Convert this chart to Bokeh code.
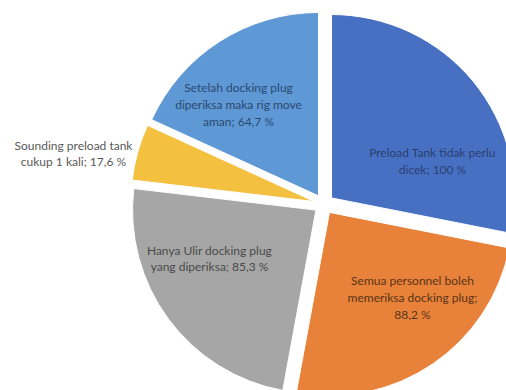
import numpy as np
import pandas as pd
from bokeh.plotting import figure
from bokeh.models import ColumnDataSource, Range1d
from bokeh.core.properties import value
from bokeh.embed import file_html
from bokeh.resources import INLINE

# ---- data ----
categories = [
    "Preload Tank tidak perlu dicek",
    "Semua personnel boleh memeriksa docking plug",
    "Hanya Ulir docking plug yang diperiksa",
    "Sounding preload tank cukup 1 kali",
    "Setelah docking plug diperiksa maka rig move aman",
]
values = [100, 88.2, 85.3, 17.6, 64.7]
value_text = ["100 %", "88,2 %", "85,3 %", "17,6 %", "64,7 %"]
label_lines = [
    "Preload Tank tidak perlu\ndicek; ",
    "Semua personnel boleh\nmemeriksa docking plug;\n",
    "Hanya Ulir docking plug\nyang diperiksa; ",
    "Sounding preload tank\ncukup 1 kali; ",
    "Setelah docking plug\ndiperiksa maka rig move\naman; ",
]

# ---- style / layout ----
colors = ["#4770C3", "#E8823A", "#A6A6A6", "#F4C040", "#5E98D5"]
text_colors = ["#2B3F6E", "#5A3416", "#4A4A4A", "#595959", "#2C4A70"]
W, H = 506, 390
cx, cy = 323.4, H - 203.7
R = 183.4
explode = 9.9
# label centres in pixel coordinates (x, y from top)
label_px = [(432, 160.5), (412, 297), (209, 258), (73, 153), (238, 104)]

df = pd.DataFrame({"category": categories, "value": values})
frac = df["value"] / df["value"].sum()
ce = frac.cumsum() * 2 * np.pi
cs = ce - frac * 2 * np.pi
mid = (cs + ce) / 2
df["start_angle"] = np.pi / 2 - ce
df["end_angle"] = np.pi / 2 - cs
df["x"] = cx + explode * np.sin(mid)
df["y"] = cy + explode * np.cos(mid)
df["color"] = colors

p = figure(width=W, height=H, output_backend="svg", toolbar_location=None,
           x_range=Range1d(0, W), y_range=Range1d(0, H),
           min_border=0, outline_line_color=None)
p.axis.visible = False
p.grid.visible = False
p.background_fill_color = "white"
p.border_fill_color = "white"

src = ColumnDataSource(df)
p.wedge(x="x", y="y", radius=R, start_angle="start_angle", end_angle="end_angle",
        fill_color="color", line_color="white", line_width=1, source=src)

lab = ColumnDataSource(dict(
    x=[lp[0] for lp in label_px],
    y=[H - lp[1] for lp in label_px],
    text=[l + v for l, v in zip(label_lines, value_text)],
    color=text_colors,
))
p.text(x="x", y="y", text="text", source=lab, text_align="center",
       text_baseline="middle", text_font=value("Lato"), text_font_size="12px",
       text_line_height=1.12, text_color="color")

open("out.html", "w").write(file_html(p, INLINE))
